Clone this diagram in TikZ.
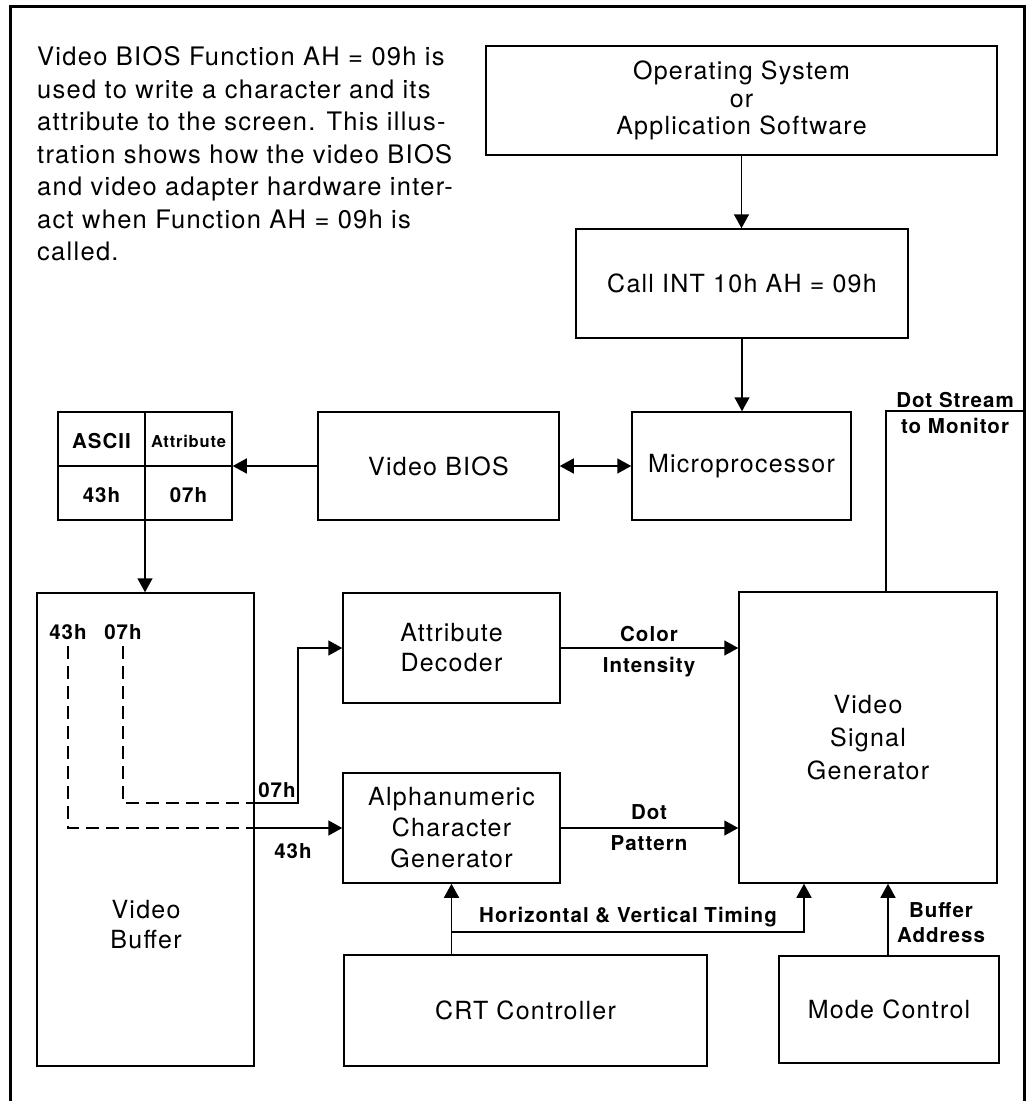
\documentclass[tikz,border=0pt]{standalone}
\usepackage{fontspec}
\setmainfont{TeX Gyre Heros}[LetterSpace=5]
\usetikzlibrary{arrows.meta,calc}
\newcommand\bigtxt{\fontsize{25}{30}\selectfont}
\newcommand\paratxt{\fontsize{25.5}{32.5}\selectfont}
\newcommand\smalltxt{\bfseries\fontsize{20.5}{26}\selectfont}
\newcommand\tinytxt{\bfseries\fontsize{16.5}{20}\selectfont}
\begin{document}
\begin{tikzpicture}[x=1pt,y=-1pt,
  box/.style={draw, line width=1.5pt, inner sep=0pt, align=center, font=\bigtxt},
  lab/.style={inner sep=0pt, align=center, font=\smalltxt},
  ln/.style={line width=1.5pt},
  arr/.style={line width=1.5pt, -{Triangle[length=14pt,width=15pt]}},
  darr/.style={line width=1.5pt, {Triangle[length=14pt,width=15pt]}-{Triangle[length=14pt,width=15pt]}},
  dashln/.style={line width=1.5pt, dash pattern=on 13pt off 7pt}]
\useasboundingbox (0,0) rectangle (1028,1101);
% frame
\draw[line width=3pt] (10,1101) -- (10,6) -- (1024,6) -- (1024,1101);
% paragraph
\node[anchor=north west, inner sep=0pt, align=left, font=\paratxt] (para) at (37,46.5)
 {Video BIOS Function AH = 09h is\\
  used to write a character and its\\
  attribute to the screen. This illus-\\
  tration shows how the video BIOS\\
  and video adapter hardware inter-\\
  act when Function AH = 09h is\\
  called.};
% boxes
\node[box, minimum width=511pt, minimum height=109pt, font={\fontsize{25}{27.5}\selectfont}] (os) at (741.5,100.5) {Operating System\\or\\Application Software};
\node[box, minimum width=332pt, minimum height=109pt] (call) at (742,283.5) {Call INT 10h AH = 09h};
\node[box, minimum width=219pt, minimum height=108pt] (micro) at (741.5,466) {Microprocessor};
\node[box, minimum width=241pt, minimum height=108pt] (vbios) at (438.5,466) {Video BIOS};
\node[box, minimum width=174pt, minimum height=108pt] (tbl) at (145,466) {};
\draw[ln] (tbl.north) -- (tbl.south);
\draw[ln] (tbl.west) -- (tbl.east);
\node[lab] (tascii) at (101.5,441) {ASCII};
\node[lab, font=\tinytxt] (tattr) at (188.5,441) {Attribute};
\node[lab] (t43) at (101.5,495) {43h};
\node[lab] (t07) at (188.5,495) {07h};
\node[box, minimum width=217pt, minimum height=473pt] (buf) at (145.5,829.5) {};
\node[inner sep=0pt, align=center, font=\bigtxt] (buftxt) at (146,925) {Video\\Buffer};
\node[box, minimum width=217pt, minimum height=110pt] (attr) at (451.5,648) {Attribute\\Decoder};
\node[box, minimum width=217pt, minimum height=110pt, font={\fontsize{25}{31}\selectfont}] (alpha) at (451.5,828) {Alphanumeric\\Character\\Generator};
\node[box, minimum width=258pt, minimum height=291pt, font={\fontsize{25}{33}\selectfont}] (vsg) at (868,737.5) {Video\\Signal\\Generator};
\node[box, minimum width=363pt, minimum height=111pt] (crt) at (525.5,1010.5) {CRT Controller};
\node[box, minimum width=220pt, minimum height=107pt] (mode) at (889,1009.5) {Mode Control};
% arrows
\draw[arr] (os.south) -- (os.south |- call.north);
\draw[arr] (call.south) -- (call.south |- micro.north);
\draw[darr] (vbios.east) -- (micro.west);
\draw[arr] (vbios.west) -- (tbl.east);
\draw[arr] (tbl.south) -- (tbl.south |- buf.north);
\draw[arr] (attr.east) -- (attr.east -| vsg.west);
\draw[arr] (alpha.east) -- (alpha.east -| vsg.west);
\draw[arr] (crt.north -| alpha.south) -- (alpha.south);
\coordinate (hv) at (451.5,932);
\coordinate (hvx) at (804,932);
\draw[arr] (hv) -- (hvx) -- (hvx |- vsg.south);
\coordinate (ba) at (888,950);
\draw[arr] (ba |- mode.north) -- (ba |- vsg.south);
\coordinate (ds) at (886,411);
\coordinate (dsend) at (1024,411);
\draw[ln] (ds |- vsg.north) -- (ds) -- (dsend);
% dashed paths in buffer
\node[lab] (b43) at (68,632) {43h};
\node[lab] (b07) at (123,632) {07h};
\coordinate (s43) at (68,646);
\coordinate (c43) at (68,828);
\coordinate (e43) at (254,828);
\draw[dashln] (s43) -- (c43) -- (e43);
\draw[arr] (e43) -- (alpha.west);
\coordinate (s07) at (123,646);
\coordinate (c07) at (123,803);
\coordinate (e07) at (254,803);
\coordinate (k07) at (298,803);
\draw[dashln] (s07) -- (c07) -- (e07);
\draw[arr] (e07) -- (k07) |- (attr.west);
% labels
\node[lab] (l07) at (277,790) {07h};
\node[lab] (l43) at (293,851) {43h};
\node[lab] (lcol) at (649,634) {Color};
\node[lab] (lint) at (649,667) {Intensity};
\node[lab] (ldot) at (649,812) {Dot};
\node[lab] (lpat) at (649,843) {Pattern};
\node[lab] (lhv) at (628,917) {Horizontal \& Vertical Timing};
\node[lab] (lbuf) at (941,910) {Buffer};
\node[lab] (ladr) at (941,935) {Address};
\node[lab] (lds) at (955,400) {Dot Stream};
\node[lab] (ltm) at (955,426) {to Monitor};
\end{tikzpicture}
\end{document}
